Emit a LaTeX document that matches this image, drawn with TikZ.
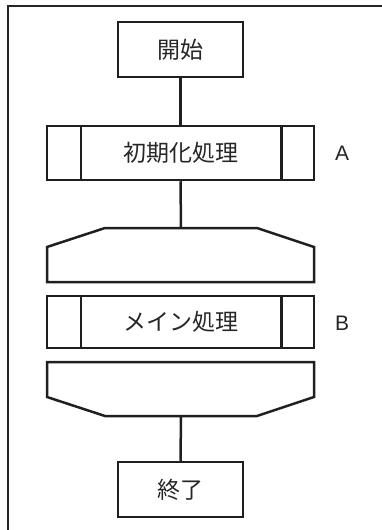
\documentclass[tikz,border=0pt]{standalone}
\usepackage{fontspec}
\setmainfont{Liberation Sans}
\newfontfamily\jpfont{Noto Sans CJK JP}
\begin{document}
\begin{tikzpicture}[x=1pt,y=-1pt,
  ln/.style={line width=2.5pt,draw=black!88},
  termbox/.style={ln,rectangle,minimum width=125pt,minimum height=55pt,inner sep=0pt,font=\jpfont\fontsize{23}{27}\selectfont,text=black!85},
  predef/.style={ln,rectangle,minimum width=267pt,minimum height=54pt,inner sep=0pt,font=\jpfont\fontsize{23}{27}\selectfont,text=black!85},
  lbl/.style={font=\fontsize{21}{25}\selectfont,text=black!85,inner sep=0pt}]
\useasboundingbox (0,0) rectangle (382,530);
% frame
\coordinate (fr) at (382,6);
\coordinate (fc) at (8,6);
\coordinate (fb) at (8,530);
\draw[line width=2.6pt,draw=black!85] (fr) -- (fc) -- (fb);
% start
\node[termbox] (start) at (180.5,49.5) {開始};
% predefined A
\node[predef,minimum height=54pt] (pa) at (180.5,153) {初期化処理};
\draw[ln] ([xshift=35pt]pa.north west) -- ([xshift=35pt]pa.south west);
\draw[ln] ([xshift=-34pt]pa.north east) -- ([xshift=-34pt]pa.south east);
\node[lbl] (la) at (342,153) {A};
% loop begin
\coordinate (lbt) at (181,228);
\draw[ln,line join=miter] (105,228) -- (257,228) -- (314,247) -- (314,282) -- (47,282) -- (47,247) -- cycle;
% predefined B
\node[predef,minimum height=52pt] (pb) at (180.5,322) {メイン処理};
\draw[ln] ([xshift=35pt]pb.north west) -- ([xshift=35pt]pb.south west);
\draw[ln] ([xshift=-34pt]pb.north east) -- ([xshift=-34pt]pb.south east);
\node[lbl] (lb) at (342,323) {B};
% loop end
\coordinate (leb) at (181,416);
\draw[ln,line join=miter] (47,362) -- (314,362) -- (314,397) -- (257,416) -- (105,416) -- (47,397) -- cycle;
% end
\node[termbox] (end) at (180.5,489.5) {終了};
% connectors
\draw[ln] (start.south) -- (pa.north);
\draw[ln] (pa.south) -- (lbt);
\draw[ln] (leb) -- (end.north);
\end{tikzpicture}
\end{document}
